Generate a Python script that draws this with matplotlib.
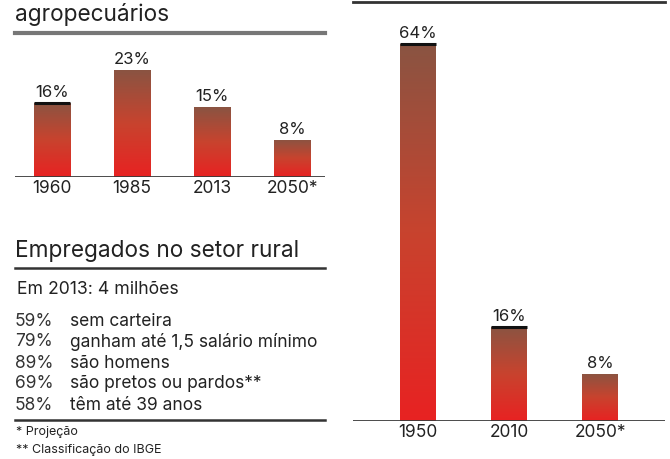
import numpy as np
import matplotlib.pyplot as plt
from matplotlib.colors import LinearSegmentedColormap

# data
agro_years = ["1960", "1985", "2013", "2050*"]
agro_vals = [16, 23, 15, 8]
rural_years = ["1950", "2010", "2050*"]
rural_vals = [64, 16, 8]
stat_pcts = ["59%", "79%", "89%", "69%", "58%"]
stat_texts = ["sem carteira", "ganham até 1,5 salário mínimo", "são homens",
              "são pretos ou pardos**", "têm até 39 anos"]

plt.rcParams['font.family'] = ['Inter', 'DejaVu Sans']
W, H = 670, 459
fig = plt.figure(figsize=(W / 100, H / 100), dpi=100)
txt = '#222222'
grad = LinearSegmentedColormap.from_list('g', ['#e82222', '#c8432e', '#8a5442'])


def px_axes(x0, x1, ytop, ybot):
    return fig.add_axes([x0 / W, 1 - ybot / H, (x1 - x0) / W, (ybot - ytop) / H])


def gradient_bars(ax, vals, width, caps):
    bars = ax.bar(range(len(vals)), vals, width=width, color='none', zorder=2)
    g = np.linspace(0, 1, 256).reshape(-1, 1)
    for b, cap in zip(bars, caps):
        x, w, h = b.get_x(), b.get_width(), b.get_height()
        im = ax.imshow(g, cmap=grad, origin='lower', aspect='auto',
                       extent=[x, x + w, 0, h], zorder=1)
        im.set_clip_path(b)
        if cap:
            ax.plot([x, x + w], [h, h], color='#111111', lw=2.2, zorder=3,
                    solid_capstyle='butt')
    return bars


def style(ax, labels, vals, xl, yl):
    ax.set_xlim(*xl)
    ax.set_ylim(*yl)
    for s in ax.spines.values():
        s.set_visible(False)
    ax.set_yticks([])
    ax.set_xticks(range(len(labels)))
    ax.set_xticklabels(labels, fontsize=12.5, color=txt)
    ax.tick_params(axis='x', length=0, pad=2)
    ax.axhline(0, color='#3a3a3a', lw=2, zorder=4)
    for i, v in enumerate(vals):
        ax.annotate(f"{v}%", (i, v), xytext=(0, 2), textcoords='offset points',
                    ha='center', va='bottom', fontsize=12, color=txt)


# left chart: agropecuarios
ax1 = px_axes(15, 325, 40, 177)
gradient_bars(ax1, agro_vals, 0.45, [True, False, False, False])
style(ax1, agro_years, agro_vals, (-0.4625, 3.41), (0, 137 / 4.65))

# right chart
ax2 = px_axes(353, 665, 1, 421)
gradient_bars(ax2, rural_vals, 0.39, [True, True, False])
style(ax2, rural_years, rural_vals, (-0.714, 2.714), (0, 420 / 5.89))

# header text and rules
fig.text(15 / W, 1 - 14 / H, "agropecuários", fontsize=16.3, color=txt, va='center', ha='left')
fig.add_artist(plt.Line2D([15 / W, 325 / W], [1 - 33 / H] * 2, color='#777777', lw=3))
fig.add_artist(plt.Line2D([353 / W, 665 / W], [1 - 1.5 / H] * 2, color='#333333', lw=2))

fig.text(15 / W, 1 - 251 / H, "Empregados no setor rural", fontsize=16.3, color=txt,
         va='center', ha='left')
fig.add_artist(plt.Line2D([15 / W, 325 / W], [1 - 268 / H] * 2, color='#333333', lw=1.8))
fig.text(17 / W, 1 - 290 / H, "Em 2013: 4 milhões", fontsize=12.7, color=txt, va='center')

row_y = [322, 342, 363, 384, 406]
for p, t, y in zip(stat_pcts, stat_texts, row_y):
    fig.text(15 / W, 1 - y / H, p, fontsize=12.5, color='#333333', va='center')
    fig.text(70 / W, 1 - y / H, t, fontsize=12.5, color=txt, va='center')

fig.add_artist(plt.Line2D([15 / W, 325 / W], [1 - 420 / H] * 2, color='#333333', lw=1.8))
fig.text(16 / W, 1 - 432 / H, "* Projeção", fontsize=9, color=txt, va='center')
fig.text(16 / W, 1 - 450 / H, "** Classificação do IBGE", fontsize=9, color=txt, va='center')

fig.savefig("out.png", dpi=100)
